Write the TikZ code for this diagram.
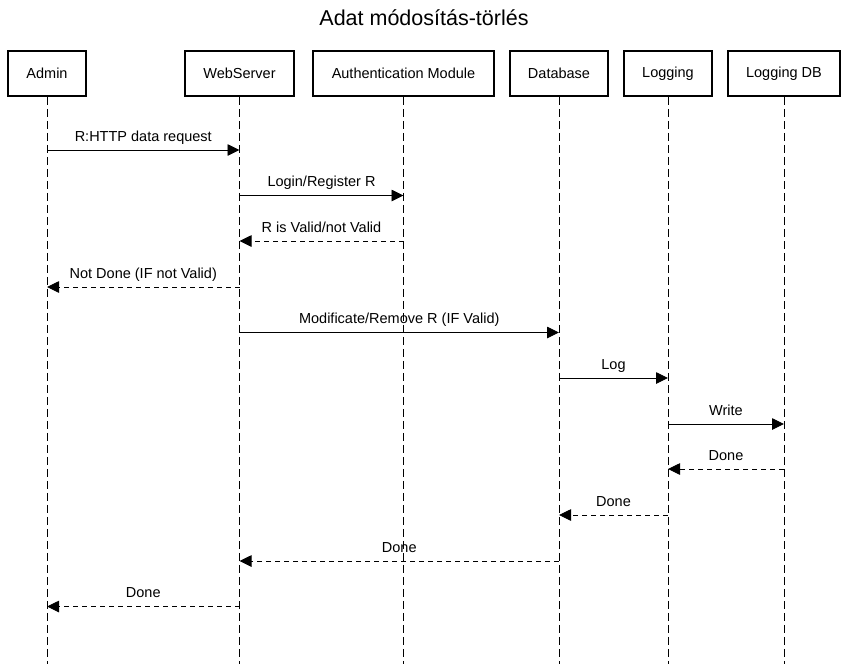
\documentclass[tikz,border=0pt]{standalone}
\usepackage{fontspec}
\setmainfont{Liberation Sans}
\usetikzlibrary{arrows.meta}

\begin{document}
\begin{tikzpicture}[
                    x=1pt, y=-1pt,
                    font=\fontsize{14.5}{17}\selectfont,
                    actor/.style={draw, line width=1.6pt, minimum height=45pt, inner sep=0pt},
                    life/.style={line width=0.9pt, dash pattern=on 8pt off 4pt},
                    msg/.style={line width=0.9pt, -{Triangle[length=12pt,width=11.5pt]}},
                    reply/.style={msg, dash pattern=on 5pt off 4pt},
                    lbl/.style={above=2pt, text height=10.5pt, text depth=3pt},
                ]
                \useasboundingbox (0,0) rectangle (848,664);
                \node[font=\fontsize{21.5}{25}\selectfont] (title) at (424,18) {Adat módosítás-törlés};

                % participants
                \node[actor, minimum width=78pt] (admin) at (47,73.5) {Admin};
                \node[actor, minimum width=109pt] (web) at (239.5,73.5) {WebServer};
                \node[actor, minimum width=181pt] (auth) at (403.5,73.5) {Authentication Module};
                \node[actor, minimum width=98pt] (db) at (559,73.5) {Database};
                \node[actor, minimum width=88pt] (log) at (668,73.5) {Logging};
                \node[actor, minimum width=112pt] (logdb) at (784,73.5) {Logging DB};

                \foreach \n in {admin,web,auth,db,log,logdb}
                    \draw[life] (\n.south) -- (\n |- 0,664);

                % messages
                \draw[msg] (admin |- 0,150) -- node[lbl] {R:HTTP data request} (web |- 0,150);
                \draw[msg] (web |- 0,195.5) -- node[lbl] {Login/Register R} (auth |- 0,195.5);
                \draw[reply] (auth |- 0,241) -- node[lbl] {R is Valid/not Valid} (web |- 0,241);
                \draw[reply] (web |- 0,287) -- node[lbl] {Not Done (IF not Valid)} (admin |- 0,287);
                \draw[msg] (web |- 0,332.5) -- node[lbl] {Modificate/Remove R (IF Valid)} (db |- 0,332.5);
                \draw[msg] (db |- 0,378) -- node[lbl] {Log} (log |- 0,378);
                \draw[msg] (log |- 0,424) -- node[lbl] {Write} (logdb |- 0,424);
                \draw[reply] (logdb |- 0,469) -- node[lbl] {Done} (log |- 0,469);
                \draw[reply] (log |- 0,515) -- node[lbl] {Done} (db |- 0,515);
                \draw[reply] (db |- 0,561) -- node[lbl] {Done} (web |- 0,561);
                \draw[reply] (web |- 0,606.5) -- node[lbl] {Done} (admin |- 0,606.5);
            \end{tikzpicture}
\end{document}
